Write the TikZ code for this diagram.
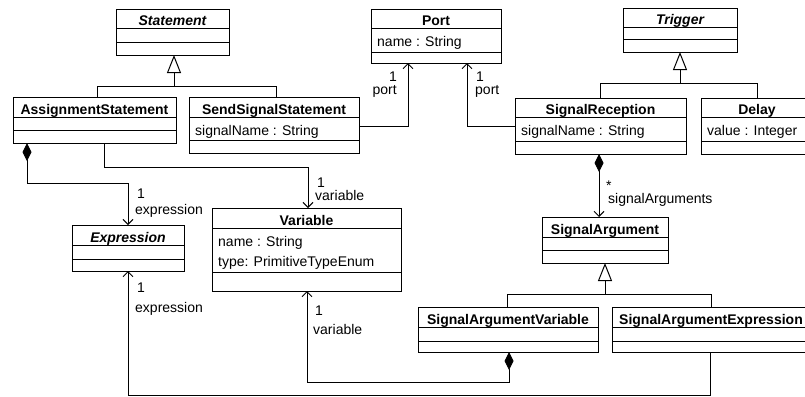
\documentclass[tikz,border=0pt]{standalone}
\usepackage{fontspec}
\setmainfont{Liberation Sans}
\usetikzlibrary{arrows.meta}
\newcommand\diagfont{\fontsize{14bp}{17bp}\selectfont}
% class box: name, left, top, right, first rule, second rule, bottom, title
\newcommand\umlclass[8]{%
  \node[classbox, anchor=north west, minimum width=#4bp-#2bp, minimum height=#7bp-#3bp] (#1) at (#2,#3) {};
  \draw[rule] (#1.west |- 0,#5) -- (#1.east |- 0,#5);
  \draw[rule] (#1.west |- 0,#6) -- (#1.east |- 0,#6);
  \node[titletext] (#1-title) at (#1.north |- 0,#5-3) {#8};
}
% attribute line: class, key, baseline, text
\newcommand\umlattr[4]{%
  \node[attrtext] (#1-#2) at ([xshift=6bp]#1.west |- 0,#3) {#4};
}
\tikzset{
  classbox/.style={draw, line width=1bp, inner sep=0pt, outer sep=0pt, fill=white},
  rule/.style={line width=1bp},
  titletext/.style={font={\diagfont\bfseries}, anchor=base, inner sep=0pt},
  attrtext/.style={font=\diagfont, anchor=base west, inner sep=0pt},
  lbl/.style={font=\diagfont, anchor=base west, inner sep=0pt},
  lblr/.style={font=\diagfont, anchor=base east, inner sep=0pt},
  conn/.style={line width=1bp},
  assoc/.style={conn, -{Straight Barb[length=5bp,width=10bp]}},
  compose/.style={conn, {Diamond[length=18bp,width=9bp]}-{Straight Barb[length=5bp,width=10bp]}},
  inherit/.style={conn, -{Triangle[open,length=18bp,width=14bp]}},
}
\begin{document}
\begin{tikzpicture}[x=1bp,y=-1bp]
\useasboundingbox (0,0) rectangle (805,396);
\clip (0,0) rectangle (805,396);

% classes
\umlclass{Stmt}{116}{9}{229}{28}{42}{55}{\itshape Statement}
\umlclass{AS}{13}{97}{176}{117}{130}{143}{AssignmentStatement}
\umlclass{SSS}{189}{97}{359}{117}{140}{153}{SendSignalStatement}
\umlattr{SSS}{a}{135}{signalName : String}
\umlclass{Port}{371}{9}{501}{28}{52}{63}{Port}
\umlattr{Port}{a}{46.5}{name : String}
\umlclass{Trig}{623}{8}{737}{27}{39}{52}{\itshape Trigger}
\umlclass{SR}{515}{98}{686}{117}{141}{154}{SignalReception}
\umlattr{SR}{a}{135}{signalName : String}
\umlclass{Delay}{701}{98}{813}{117}{141}{154}{Delay}
\umlattr{Delay}{a}{135}{value : Integer}
\umlclass{Expr}{72}{225}{184}{245}{259}{271}{\itshape Expression}
\umlclass{Var}{212}{208}{401}{228}{272}{291}{Variable}
\umlattr{Var}{a}{246.5}{name : String}
\umlattr{Var}{b}{266}{type: PrimitiveTypeEnum}
\umlclass{SA}{542}{217}{668}{237}{250}{263}{SignalArgument}
\umlclass{SAV}{418}{307}{598}{327}{341}{352}{SignalArgumentVariable}
\umlclass{SAE}{612}{307}{810}{327}{341}{352}{SignalArgumentExpression}

% generalizations
\draw[inherit] (AS.north -| 97,0) |- (174,86) -- (Stmt.south -| 174,0);
\draw[conn] (SSS.north -| 276,0) |- (174,86);
\draw[inherit] (SR.north -| 600,0) |- (Trig.south |- 0,83) -- (Trig.south);
\draw[conn] (Delay.north) |- (Trig.south |- 0,83);
\draw[inherit] (SAV.north -| 507,0) |- (SA.south |- 0,294) -- (SA.south);
\draw[conn] (SAE.north) |- (SA.south |- 0,294);

% associations and compositions
\draw[compose] (AS.south -| 27,0) |- (128,183) -- (Expr.north -| 128,0);
\node[lbl] (l1) at (137,198) {1};
\node[lbl] (l2) at (135,214) {expression};

\draw[assoc] (AS.south -| 104,0) |- (308,167) -- (Var.north -| 308,0);
\node[lbl] (l3) at (317,187) {1};
\node[lbl] (l4) at (315,200) {variable};

\draw[assoc] (SSS.east |- 0,126) -| (Port.south -| 408,0);
\node[lblr] (l5) at (397,81) {1};
\node[lblr] (l6) at (397,94) {port};

\draw[assoc] (SR.west |- 0,126) -| (Port.south -| 467,0);
\node[lbl] (l7) at (476,81) {1};
\node[lbl] (l8) at (475,94) {port};

\draw[compose] (SR.south -| 599,0) -- (SA.north -| 599,0);
\node[lbl] (l9) at (606,190) {*};
\node[lbl] (l10) at (608,203) {signalArguments};

\draw[compose] (SAV.south -| 509,0) |- (307,382) -- (Var.south -| 307,0);
\node[lbl] (l11) at (315,315) {1};
\node[lbl] (l12) at (313,334) {variable};

\draw[assoc] (SAE.south -| 710,0) |- (128,395) -- (Expr.south -| 128,0);
\node[lbl] (l13) at (137,292) {1};
\node[lbl] (l14) at (135,312) {expression};
\end{tikzpicture}
\end{document}
